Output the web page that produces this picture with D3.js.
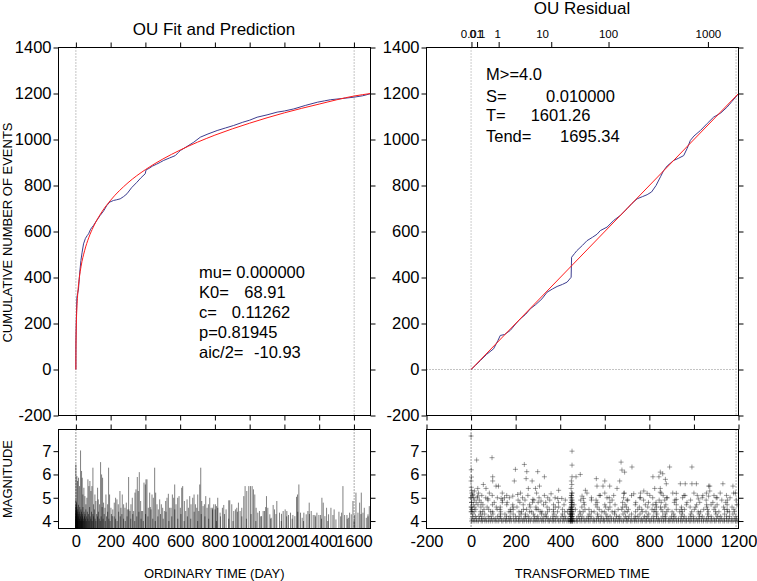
<!DOCTYPE html>
<html><head><meta charset="utf-8">
<script src="https://cdn.jsdelivr.net/npm/d3@7"></script>
<style>body{margin:0;background:#fff}svg{display:block}</style>
</head><body><svg id="c" width="757" height="581"></svg>
<script>
// ---------- DATA ----------
const T_END = 1695.34, T_MAIN = 1601.26, TAU_T = 1189;
const nTicks = [-200,0,200,400,600,800,1000,1200,1400];
const tTicks = [0,200,400,600,800,1000,1200,1400,1600];
const tauTicks = [-200,0,200,400,600,800,1000,1200];
const magTicks = [4,5,6,7];
const logLabels = ["0.01","0.1","1","10","100","1000"];
const logTickTau = [4,29,126,362,619,1065];
const logLabelTau = [4,29,119,321,617,1065];

// observed cumulative count (blue) vs ordinary time
const obsT = [0,0.05,0.3,1,3,6,10,15,22,29,36,44,55,65,73,85,101,120,140,160,178,195,217,235,255,275,294,320,351,375,399,404,420,440,465,486,505,540,572,590,601,640,678,716,760,813,860,908,960,1000,1043,1100,1158,1200,1254,1320,1389,1430,1466,1530,1600,1650,1695.34];
const obsN = [0,60,110,150,230,314,330,350,420,474,510,546,570,582,590,610,626,648,670,690,713,728,735,738,742,752,764,790,814,834,851,868,874,884,893,901,909,920,930,944,952,970,988,1010,1024,1039,1050,1061,1075,1084,1097,1107,1119,1124,1133,1148,1162,1168,1173,1178,1184,1190,1199];
// fitted OU cumulative (red)
const fitT = [0,0.1,0.5,1,2,5,10,20,30,50,75,100,150,200,300,400,500,600,800,1000,1200,1400,1601.26,1695.34];
const fitN = [0,31,92,132,180,255,322,399,449,516,575,619,686,736,812,869,915,954,1019,1071,1116,1154,1189,1200];
// residual: count vs transformed time
const resTau = [0,20,42,70,101,120,131,150,176,200,221,245,266,290,318,341,365,386,410,431,449,451,465,475,500,520,545,565,580,610,640,670,700,722,745,770,790,810,830,850,864,880,909,930,954,970,984,1000,1029,1060,1088,1120,1148,1170,1193,1200];
const resN = [0,18,39,66,90,125,148,152,170,198,220,240,264,282,307,336,350,361,370,380,401,488,505,517,540,560,575,588,604,619,648,670,699,722,742,752,760,772,800,838,865,885,909,918,930,962,996,1015,1039,1070,1097,1115,1140,1165,1191,1199];
const resFitTau = [0,1200];
const resFitN = [0,1200];

// magnitude bars vs ordinary time [day, magnitude]
const barsLarge = [[0,6.43],[5.8,5.93],[9.6,5.72],[15.4,5.86],[21.1,5.5],[26.9,7.03],[32.7,6.15],[36.5,5.86],[40.3,5.14],[46.1,5.43],[51.9,5.07],[57.6,4.72],[63.4,5.0],[69.2,5.79],[74.9,5.5],[80.7,5.72],[86.4,5.29],[92.2,5.5],[98,6.29],[101.8,4.72],[109.5,5.14],[115.3,4.86],[124.9,5.43],[128.7,4.93],[136.4,4.72],[142.2,6.53],[147.9,6.0],[153.7,5.86],[159.4,4.79],[167.1,4.57],[172.9,5.14],[182.5,4.72],[188.3,6.29],[194,5.14],[201.7,4.57],[209.4,4.21],[220.9,4.79],[228.6,5.0],[236.3,4.93],[244,4.72],[253.6,5.29],[259.3,4.57],[267,5.14],[274.7,4.72],[282.4,4.57],[290.1,4.79],[297.8,4.5],[303.5,5.89],[311.2,4.43],[317,4.72],[324.6,5.0],[332.3,4.43],[340,5.22],[345.8,5.36],[353.5,5.89],[359.2,5.29],[365,6.1],[372.7,4.86],[378.4,4.43],[384.2,4.43],[391.9,5.65],[399.6,5.57],[403.4,5.79],[409.2,5.79],[416.9,4.57],[424.6,5.22],[432.2,4.5],[438,5.14],[445.7,5.0],[453.4,6.29],[459.1,5.22],[466.8,4.72],[474.5,4.5],[482.2,4.93],[491.8,4.72],[499.5,4.57],[509.1,4.43],[516.7,4.86],[524.4,5.0],[532.1,5.17],[539.8,4.57],[547.5,4.57],[555.2,5.14],[562.9,5.0],[568.6,5.57],[576.3,4.72],[585.9,5.0],[593.6,5.07],[601.3,4.57],[609,5.43],[614.7,5.5],[624.3,4.86],[632,4.43],[639.7,4.93],[647.4,4.57],[655.1,5.07],[662.7,4.72],[672.4,5.0],[680.1,5.14],[687.8,4.72],[695.4,4.57],[701.2,5.14],[707,4.43],[712.7,5.57],[718.5,6.29],[724.2,4.86],[731.9,4.64],[739.6,4.72],[747.3,5.07],[755,4.57],[762.6,4.72],[770.3,5.0],[778,4.57],[785.7,4.57],[793.4,4.72],[801.1,4.5],[808.7,4.64],[816.4,4.57],
[802.9,4.72],[816.3,5.0],[829.8,4.36],[843.2,4.57],[850.9,4.69],[864.3,4.5],[879.7,4.89],[885.5,4.89],[897,4.72],[908.5,4.43],[918.1,4.5],[925.8,4.57],[935.4,4.79],[945,4.43],[954.6,4.57],[966.1,5.07],[973.8,5.5],[983.4,5.29],[995,5.5],[1004.6,5.5],[1014.2,5.5],[1021.9,5.36],[1029.5,5.14],[1037.2,4.57],[1046.8,4.36],[1056.4,4.43],[1068,4.21],[1077.6,4.43],[1085.3,4.43],[1096.8,5.07],[1104.5,4.57],[1116,4.29],[1123.7,4.14],[1135.2,4.69],[1142.9,4.5],[1156.3,4.86],[1171.7,4.36],[1183.2,4.31],[1192.8,4.43],[1204.3,4.5],[1213.9,4.43],[1223.5,4.26],[1235.1,4.36],[1248.5,4.26],[1260.1,4.21],[1269.7,5.04],[1275.4,5.14],[1283.1,5.57],[1292.7,4.36],[1302.3,4.14],[1311.9,4.36],[1325.4,4.29],[1335,4.43],[1342.7,4.79],[1354.2,4.43],[1365.7,4.26],[1375.3,4.26],[1386.9,4.36],[1398.4,4.26],[1408,4.26],[1415.7,5.0],[1423.4,4.79],[1433,4.21],[1442.6,4.57],[1454.1,4.29],[1467.6,4.57],[1479.1,4.26],[1496.4,4.07],[1513.7,4.4],[1529,4.36],[1536.7,5.5],[1546.3,4.26],[1559.8,4.26],[1569.4,4.14],[1575.1,4.36],[1584.7,4.29],[1594.3,4.86],[1603.9,4.26],[1611.6,5.22],[1623.1,4.36],[1632.7,4.79],[1642.3,5.22],[1652,4.36],[1659.6,4.57],[1671.1,4.14],[1680.7,4.29],[1688.4,4.64]];
const barsSmall = [[0.05,4.6],[0.15,4.2],[0.25,4.9],[0.4,4.1],[0.6,4.4],[0.9,4.0],[1.1,4.7],[1.4,4.3],[1.8,4.1],[2.3,4.5],[2.9,4.2],[3.6,4.8],[4.4,4.0],[5.1,4.3],[6.0,4.6],[6.8,4.1],[7.7,4.2],[8.6,4.4],[9.5,4.0],[10.6,4.5],[11.9,4.1],[13.2,4.3],[14.5,4.7],[16.0,4.2],[17.6,4.0],[19.1,4.4],[20.7,4.1],[22.3,4.6],[24.0,4.3],[25.5,4.0],[27.4,4.2],[29.1,4.5],[30.9,4.1],[32.6,4.4],[34.5,4.0],[36.6,4.3],[38.5,4.2],[40.7,4.6],[42.9,4.1],[45.0,4.0],[47.3,4.4],[49.6,4.2],[52.0,4.3],[54.6,4.1],[57.2,4.5],[59.9,4.0],[62.7,4.2],[65.8,4.4],[68.8,4.1],[72.0,4.3],[75.5,4.0],[78.9,4.6],[82.6,4.2],[86.2,4.1],[90.0,4.4],[94.0,4.0],[97.9,4.3],[102.2,4.2],[106.4,4.5],[110.7,4.1],[115.2,4.0],[119.8,4.3],[124.6,4.2],[129.5,4.4],[134.4,4.1],[139.9,4.0],[145.3,4.2],[151.0,4.6],[156.8,4.1],[163.0,4.3],[169.4,4.0],[176.1,4.2],[182.9,4.4],[189.8,4.1],[197.2,4.0],[204.6,4.3],[212.4,4.5],[220.4,4.2],[228.7,4.1],[237.3,4.0],[246.0,4.4],[255.2,4.2],[264.6,4.3],[274.3,4.1],[284.2,4.0],[294.6,4.2],[305.1,4.5],[316.0,4.1],[327.2,4.3],[338.7,4.0],[350.5,4.2],[362.6,4.4],[375.0,4.1],[387.9,4.0],[401.0,4.3],[414.5,4.2],[428.3,4.6],[442.4,4.1],[456.9,4.0],[471.8,4.2],[487.0,4.3],[502.6,4.1],[518.6,4.4],[535.0,4.0],[551.7,4.2],[568.9,4.5],[586.4,4.1],[604.4,4.3],[622.8,4.0],[641.6,4.2],[660.9,4.1],[680.6,4.4],[700.8,4.0],[721.4,4.3],[742.5,4.2],[764.1,4.1],[786.2,4.5],[808.7,4.0],[831.8,4.2],[855.4,4.3],[879.5,4.1],[904.1,4.0],[929.3,4.4],[955.0,4.2],[981.3,4.1],[1008.2,4.3],[1035.6,4.0],[1063.6,4.2],[1092.2,4.6],[1121.4,4.1],[1151.2,4.3],[1181.7,4.0],[1212.8,4.2],[1244.5,4.1],[1276.9,4.4],[1310.0,4.0],[1343.8,4.3],[1378.3,4.2],[1413.5,4.1],[1449.4,4.0],[1486.1,4.5],[1523.5,4.2],[1561.7,4.1],[1600.7,4.0],[1640.4,4.3],[1680.9,4.2]];

// magnitude scatter vs transformed time [tau, magnitude]
const plusLarge = [[0,7.65],[1,6.2],[0,5.72],[2,5.89],[1,5.45],[3,5.3],[0,5.0],[2,4.8],[1,4.6],[3,4.5],[0,4.4],[25,6.62],[94,6.72],[97,5.9],[97,5.72],[55,5.57],[67,5.4],[112,5.5],[123,5.5],[15,5.29],[30,5.4],[30,5.07],[8,5.14],[12,5.0],[75,4.96],[135,4.97],[150,5.0],[199,6.22],[194,5.72],[239,6.43],[250,6.12],[247,5.82],[274,5.72],[299,6.12],[329,5.9],[257,5.4],[289,5.4],[307,5.5],[393,5.32],[187,5.07],[209,5.14],[359,5.17],[389,4.97],[407,4.97],[344,5.0],[277,4.93],[314,4.86],[453,7.0],[453,6.4],[453,5.9],[471,5.9],[490,6.0],[450,5.72],[452,5.57],[449,5.4],[454,5.2],[451,5.1],[448,5.0],[453,4.9],[450,4.8],[452,4.7],[449,4.6],[454,4.5],[451,4.4],[447,4.3],[452,4.2],[450,4.1],[455,4.0],[446,4.0],[448,4.2],[455,4.3],[446,4.5],[448,4.1],[673,6.53],[677,6.19],[689,6.1],[722,6.32],[667,5.72],[655,5.4],[685,5.19],[562,5.82],[565,5.5],[600,5.72],[592,5.5],[622,5.5],[513,5.32],[498,5.07],[505,4.97],[816,5.9],[843,5.9],[849,6.1],[860,6.03],[872,5.79],[891,6.32],[876,5.6],[824,5.4],[849,5.4],[849,5.24],[775,5.29],[790,5.19],[991,6.32],[939,5.6],[961,5.6],[991,5.6],[1011,5.6],[921,5.19],[921,4.93],[1066,5.5],[1071,5.5],[1071,5.29],[1066,5.07],[1130,5.6],[1175,5.5],[1186,5.2],[730,5.17],[1040,5.1],[1100,5.0],[1150,4.9],[960,5.1],[880,5.0],[620,5.0],[580,5.1],[540,4.9],[700,4.9],[760,5.0],[1020,4.95]];
const row40 = [2,9,17,26,33,45,51,62,70,79,88,97,108,116,124,137,143,155,161,172,180,193,201,212,219,231,238,249,258,266,279,287,296,305,317,324,333,346,352,364,371,380,392,399,411,418,430,438,444,447,450,452,456,463,472,478,489,497,508,515,526,534,547,553,562,574,581,593,599,611,620,628,641,647,658,666,677,684,696,703,715,722,733,741,750,762,769,781,788,800,807,818,826,838,845,856,864,873,885,892,903,911,922,930,941,948,960,967,979,986,997,1005,1016,1024,1035,1043,1054,1062,1073,1081,1092,1099,1111,1118,1130,1137,1148,1156,1167,1175,1186,1194];
const row41 = [4,13,24,38,47,58,66,81,92,103,111,126,134,148,157,169,178,190,203,214,225,237,246,260,270,283,292,301,313,322,336,345,357,368,377,389,402,415,424,435,445,449,454,460,474,486,495,506,519,528,539,551,564,572,586,595,607,616,630,639,651,663,672,687,698,706,719,731,739,753,764,775,786,797,809,820,833,842,853,866,874,888,897,908,919,931,942,953,965,976,988,999,1011,1022,1033,1045,1056,1066,1079,1090,1101,1113,1124,1136,1147,1158,1170,1181,1192];
const row42 = [6,20,35,49,77,90,119,132,159,175,199,216,243,256,284,299,327,339,367,382,408,421,446,451,455,481,498,525,538,569,583,610,624,653,665,693,709,736,748,778,791,817,832,860,873,900,914,943,957,983,997,1025,1038,1064,1077,1106,1120,1146,1160,1188];
const row43 = [8,43,61,98,131,152,189,224,244,280,316,335,372,410,443,448,453,490,530,567,605,644,682,720,758,797,834,871,909,947,986,1023,1061,1099,1137,1175];
const row44 = [3,14,41,52,88,97,133,170,178,215,226,263,272,310,318,343,369,388,420,433,447,451,457,488,503,540,552,587,598,633,645,690,701,738,768,785,820,831,860,878,902,936,948,990,1019,1030,1065,1097,1112,1150,1159,1182];
const row45 = [5,21,58,79,117,130,176,189,235,249,292,301,351,370,410,440,449,452,468,511,529,575,616,660,676,706,748,766,812,825,853,884,921,943,958,1002,1044,1061,1090,1137,1149,1179];
const row46 = [1,16,44,72,113,131,188,206,265,291,341,378,393,450,453,497,566,604,623,680,697,755,793,832,850,869,944,983,1008,1058,1095,1133,1171];
const row47 = [10,31,53,96,160,187,234,262,325,370,417,451,462,508,560,600,646,691,737,782,816,829,874,921,966,1012,1057,1077,1104,1149,1193];
const row48 = [2,23,45,104,140,162,219,276,301,335,392,449,454,506,566,623,680,739,796,830,853,912,969,1026,1085,1143];
const row49 = [14,37,76,141,211,242,282,353,423,452,492,561,633,703,774,844,869,915,985,1055,1125,1190];
const row50 = [0,28,66,118,172,231,305,377,452,540,610,684,757,815,878,949,1037,1104,1162];
const row51 = [6,48,95,160,255,329,450,575,640,720,802,862,955,1015,1090,1146];
const row52 = [3,33,82,140,222,294,451,520,600,688,760,853,905,1000,1056,1118,1178];
const rowMags = [4.0,4.1,4.2,4.3,4.4,4.5,4.6,4.7,4.8,4.9,5.0,5.1,5.2];
const rowTaus = [row40,row41,row42,row43,row44,row45,row46,row47,row48,row49,row50,row51,row52];

// ---------- DRAWING ----------
const FONT = '"Liberation Sans", Arial, Helvetica, sans-serif';
const svg = d3.select("#c");
const xL = d3.scaleLinear().domain([-100, T_END]).range([58.5, 370.5]);
const xR = d3.scaleLinear().domain([-200, 1200]).range([426.5, 738.5]);
const yN = d3.scaleLinear().domain([-200, 1400]).range([415.5, 47.5]);
const yM = d3.scaleLinear().domain([3.68, 7.93]).range([528.5, 429.5]);

function txt(x, y, s, size, anchor) {
  return svg.append("text").attr("x", x).attr("y", y).text(s)
    .attr("font-family", FONT).attr("font-size", size)
    .attr("text-anchor", anchor || "start").attr("fill", "#000");
}
function axis(gen, tx, ty, fs) {
  const g = svg.append("g").attr("transform", `translate(${tx},${ty})`).call(gen);
  g.select(".domain").remove();
  g.attr("font-family", null).attr("font-size", null);
  g.selectAll("text").attr("font-family", FONT).attr("font-size", fs || 16.5).attr("fill", "#000");
  g.selectAll("line").attr("stroke", "#000");
  return g;
}
const fmt = d => String(d);
const none = () => "";
function dotted(x1, y1, x2, y2, col) {
  svg.append("line").attr("x1", x1).attr("y1", y1).attr("x2", x2).attr("y2", y2)
    .attr("stroke", col).attr("stroke-width", 1).attr("stroke-dasharray", "1,2");
}
function frame(x0, y0, x1, y1) {
  svg.append("rect").attr("x", x0).attr("y", y0).attr("width", x1 - x0).attr("height", y1 - y0)
    .attr("fill", "none").attr("stroke", "#000").attr("stroke-width", 1);
}

// ---- Left top panel ----
dotted(xL(0), 47.5, xL(0), 415.5, "#888");
dotted(xL(T_MAIN), 47.5, xL(T_MAIN), 415.5, "#888");
const lineObs = d3.line().x((d, i) => xL(obsT[i])).y((d, i) => yN(obsN[i]));
svg.append("path").datum(obsT).attr("d", lineObs).attr("fill", "none").attr("stroke", "#3d3d8f").attr("stroke-width", 1);
const lineFit = d3.line().x((d, i) => xL(fitT[i])).y((d, i) => yN(fitN[i])).curve(d3.curveMonotoneX);
svg.append("path").datum(fitT).attr("d", lineFit).attr("fill", "none").attr("stroke", "#ff1a1a").attr("stroke-width", 1);
frame(58.5, 47.5, 370.5, 415.5);
axis(d3.axisLeft(yN).tickValues(nTicks).tickSize(5).tickPadding(2).tickFormat(fmt), 58.5, 0);
axis(d3.axisRight(yN).tickValues(nTicks).tickSize(5).tickFormat(none), 370.5, 0);
axis(d3.axisTop(xL).tickValues(tTicks).tickSize(5).tickFormat(none), 0, 47.5);
axis(d3.axisBottom(xL).tickValues(tTicks).tickSize(5).tickFormat(none), 0, 415.5);
txt(214, 34.5, "OU Fit and Prediction", 17, "middle");
txt(199, 277.5, "mu= 0.000000", 16.5);
const k0 = txt(199, 297.5, "K0=", 16.5); k0.append("tspan").attr("x", 244.3).text("68.91");
const cc = txt(199, 317.5, "c=", 16.5); cc.append("tspan").attr("x", 231.7).text("0.11262");
txt(199, 337.5, "p=0.81945", 16.5);
const aic = txt(199, 357.5, "aic/2=", 16.5); aic.append("tspan").attr("x", 254).text("-10.93");
txt(0, 0, "CUMULATIVE NUMBER OF EVENTS", 13, "middle").attr("transform", "translate(12,232.5) rotate(-90)");

// ---- Left magnitude panel ----
dotted(xL(0), 429.5, xL(0), 528.5, "#333");
dotted(xL(T_MAIN), 429.5, xL(T_MAIN), 528.5, "#555");
const allBars = barsSmall.concat(barsLarge);
svg.append("g").selectAll("line").data(allBars).join("line")
  .attr("x1", d => xL(d[0])).attr("x2", d => xL(d[0]))
  .attr("y1", yM(3.68)).attr("y2", d => yM(d[1]))
  .attr("stroke", "#000").attr("stroke-width", 0.5);
frame(58.5, 429.5, 370.5, 528.5);
axis(d3.axisLeft(yM).tickValues(magTicks).tickSize(5).tickPadding(2).tickFormat(fmt), 58.5, 0);
axis(d3.axisRight(yM).tickValues(magTicks).tickSize(5).tickFormat(none), 370.5, 0);
axis(d3.axisTop(xL).tickValues(tTicks).tickSize(5).tickFormat(none), 0, 429.5);
axis(d3.axisBottom(xL).tickValues(tTicks).tickSize(0).tickPadding(7).tickFormat(fmt), 0, 528.5);
txt(0, 0, "MAGNITUDE", 13, "middle").attr("transform", "translate(12,479) rotate(-90)");
txt(214.2, 578, "ORDINARY TIME (DAY)", 13, "middle");

// ---- Right top panel ----
dotted(xR(0), 47.5, xR(0), 415.5, "#999");
dotted(xR(TAU_T), 47.5, xR(TAU_T), 415.5, "#888");
dotted(426.5, yN(0), 738.5, yN(0), "#888");
const lineRes = d3.line().x((d, i) => xR(resTau[i])).y((d, i) => yN(resN[i]));
svg.append("path").datum(resTau).attr("d", lineRes).attr("fill", "none").attr("stroke", "#3d3d8f").attr("stroke-width", 1);
const lineRF = d3.line().x((d, i) => xR(resFitTau[i])).y((d, i) => yN(resFitN[i]));
svg.append("path").datum(resFitTau).attr("d", lineRF).attr("fill", "none").attr("stroke", "#ff1a1a").attr("stroke-width", 1);
frame(426.5, 47.5, 738.5, 415.5);
axis(d3.axisLeft(yN).tickValues(nTicks).tickSize(5).tickPadding(2).tickFormat(fmt), 426.5, 0);
axis(d3.axisRight(yN).tickValues(nTicks).tickSize(5).tickFormat(none), 738.5, 0);
axis(d3.axisBottom(xR).tickValues(tauTicks).tickSize(5).tickFormat(none), 0, 415.5);
svg.append("g").selectAll("line").data(logTickTau).join("line")
  .attr("x1", d => xR(d)).attr("x2", d => xR(d)).attr("y1", 47.5).attr("y2", 42)
  .attr("stroke", "#000");
svg.append("g").selectAll("text").data(logLabels).join("text")
  .attr("x", (d, i) => xR(logLabelTau[i])).attr("y", 38).text(d => d)
  .attr("font-family", FONT).attr("font-size", 11.5).attr("text-anchor", "middle").attr("fill", "#000");
txt(582, 13.5, "OU Residual", 17, "middle");
txt(486, 80, "M>=4.0", 16.5);
const sS = txt(486, 101.8, "S=", 16.5); sS.append("tspan").attr("x", 546).text("0.010000");
const sT = txt(486, 121.3, "T=", 16.5); sT.append("tspan").attr("x", 530.7).text("1601.26");
const sE = txt(486, 141.8, "Tend=", 16.5); sE.append("tspan").attr("x", 560).text("1695.34");

// ---- Right magnitude panel ----
dotted(xR(0), 429.5, xR(0), 528.5, "#333");
dotted(xR(TAU_T), 429.5, xR(TAU_T), 528.5, "#555");
const rowPts = [];
rowTaus.forEach((arr, k) => arr.forEach(t => rowPts.push([t, rowMags[k]])));
const allPlus = rowPts.concat(plusLarge);
svg.append("g").selectAll("path").data(allPlus).join("path")
  .attr("transform", d => `translate(${xR(d[0])},${yM(d[1])})`)
  .attr("d", "M-2.5,0H2.5M0,-2.5V2.5")
  .attr("fill", "none").attr("stroke", "#000").attr("stroke-opacity", 0.38).attr("stroke-width", 1);
frame(426.5, 429.5, 738.5, 528.5);
axis(d3.axisLeft(yM).tickValues(magTicks).tickSize(5).tickPadding(2).tickFormat(fmt), 426.5, 0);
axis(d3.axisRight(yM).tickValues(magTicks).tickSize(5).tickFormat(none), 738.5, 0);
axis(d3.axisTop(xR).tickValues(tauTicks).tickSize(5).tickFormat(none), 0, 429.5);
axis(d3.axisBottom(xR).tickValues(tauTicks).tickSize(0).tickPadding(7).tickFormat(fmt), 0, 528.5);
txt(582.2, 578, "TRANSFORMED TIME", 13, "middle");
</script></body></html>
